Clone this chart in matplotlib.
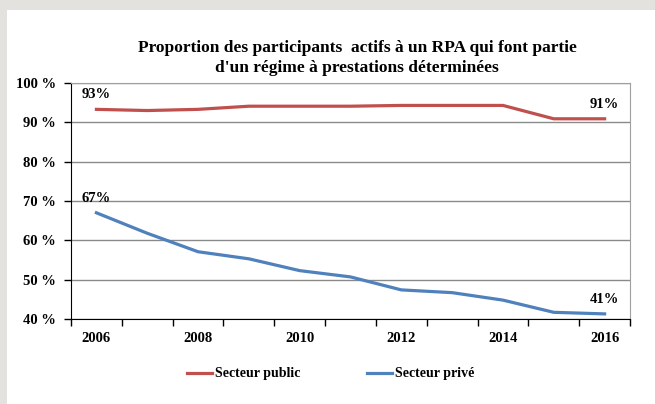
import numpy as np
import matplotlib
matplotlib.use('Agg')
import matplotlib.pyplot as plt
from matplotlib.patches import Rectangle

# donnees
annees = [2006, 2007, 2008, 2009, 2010, 2011, 2012, 2013, 2014, 2015, 2016]
secteur_public = [93.3, 93.0, 93.3, 94.1, 94.1, 94.1, 94.3, 94.3, 94.3, 90.9, 90.9]
secteur_prive = [67.0, 61.8, 57.1, 55.3, 52.3, 50.7, 47.4, 46.7, 44.8, 41.7, 41.3]
etiq_public = ['93%', '91%']
etiq_prive = ['67%', '41%']

plt.rcParams['font.family'] = ['Liberation Serif', 'DejaVu Serif']
plt.rcParams['font.weight'] = 'bold'

fig = plt.figure(figsize=(6.55, 4.04), dpi=100)
fig.patch.set_facecolor('#e4e2df')
# panneau blanc
fig.patches.append(Rectangle((7 / 655, 0), 1, 1 - 10 / 404, transform=fig.transFigure,
                             facecolor='white', edgecolor='none', zorder=-10))

ax = fig.add_axes([71 / 655, 1 - 319 / 404, 559 / 655, 236 / 404])
ax.set_facecolor('white')

x = np.arange(len(annees))
ax.plot(x, secteur_public, color='#c0504d', linewidth=2.3, label='Secteur public', zorder=3)
ax.plot(x, secteur_prive, color='#4f81bd', linewidth=2.3, label='Secteur privé', zorder=3)

ax.set_xlim(-0.5, len(annees) - 0.5)
ax.set_ylim(40, 100)

# graduations x aux frontieres des categories, etiquettes une annee sur deux
ax.set_xticks(np.arange(-0.5, len(annees), 1))
ax.set_xticklabels([])
ax.tick_params(axis='x', which='major', length=5, width=1, color='black', direction='out')
ax.set_xticks(x[::2], minor=True)
ax.set_xticklabels([str(a) for a in annees[::2]], minor=True)
ax.tick_params(axis='x', which='minor', length=0, pad=9, labelsize=10.5)

ax.set_yticks(np.arange(40, 101, 10))
ax.set_yticklabels([f'{v} %' for v in range(40, 101, 10)])
ax.tick_params(axis='y', length=5, width=1, color='black', labelsize=10.5, pad=6)

ax.yaxis.grid(True, color='#8a8a8a', linewidth=1)
ax.set_axisbelow(True)
for s in ['top', 'right']:
    ax.spines[s].set_color('#a0a0a0')
for s in ['left', 'bottom']:
    ax.spines[s].set_color('black')

# etiquettes des valeurs
ax.text(x[0], secteur_public[0] + 2.1, etiq_public[0], ha='center', va='bottom', fontsize=10.5)
ax.text(x[-1], secteur_public[-1] + 2.1, etiq_public[1], ha='center', va='bottom', fontsize=10.5)
ax.text(x[0], secteur_prive[0] + 2.1, etiq_prive[0], ha='center', va='bottom', fontsize=10.5)
ax.text(x[-1], secteur_prive[-1] + 2.1, etiq_prive[1], ha='center', va='bottom', fontsize=10.5)

fig.text(0.545, 1 - 58 / 404, "Proportion des participants  actifs à un RPA qui font partie\nd'un régime à prestations déterminées",
         ha='center', va='center', fontsize=12.5, linespacing=1.25)

leg = fig.legend(loc='center', bbox_to_anchor=(0.505, 1 - 374 / 404), ncol=2, frameon=False,
                 fontsize=10, handlelength=1.8, handletextpad=0.2, columnspacing=4.8)

fig.savefig('out.png', dpi=100, facecolor=fig.get_facecolor())
